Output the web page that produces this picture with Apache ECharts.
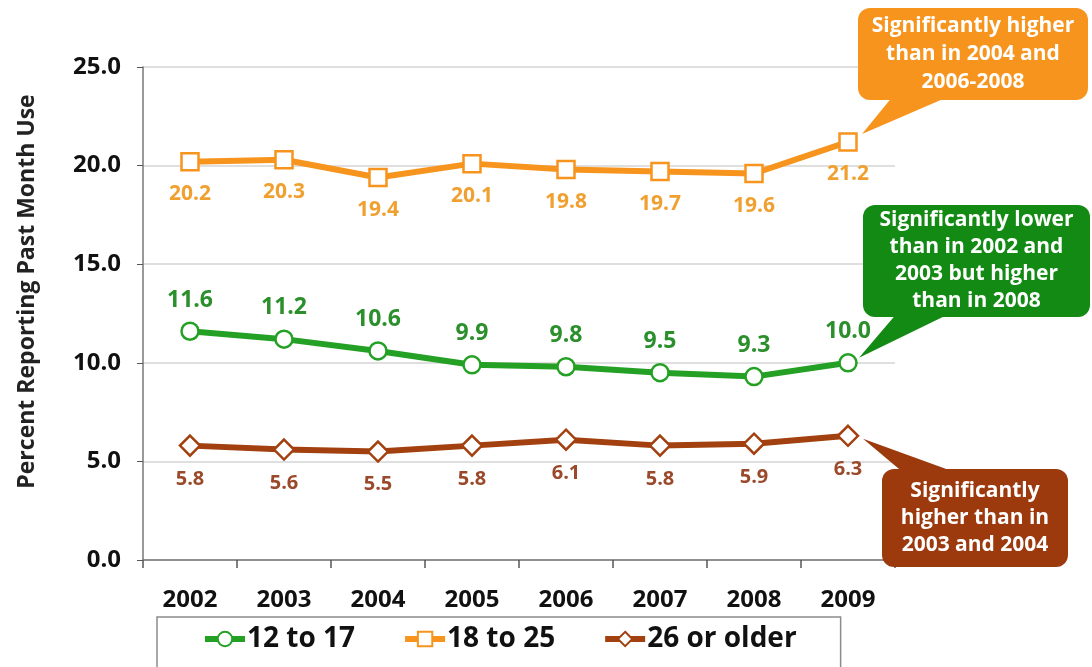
<!DOCTYPE html>
<html lang="en">
<head>
    <meta charset="UTF-8">
    <title>Percent Reporting Past Month Use</title>
    <script src="https://cdn.jsdelivr.net/npm/echarts@6/dist/echarts.min.js"></script>
    <style>
        html, body { margin: 0; padding: 0; background: #fff; }
        #chart-container { width: 1092px; height: 667px; }
    </style>
</head>
<body>
    <div id="chart-container"></div>
    <script>
        const years = ['2002', '2003', '2004', '2005', '2006', '2007', '2008', '2009'];
        const age12to17 = [11.6, 11.2, 10.6, 9.9, 9.8, 9.5, 9.3, 10.0];
        const age18to25 = [20.2, 20.3, 19.4, 20.1, 19.8, 19.7, 19.6, 21.2];
        const age26older = [5.8, 5.6, 5.5, 5.8, 6.1, 5.8, 5.9, 6.3];
        const yTicks = [0, 5, 10, 15, 20, 25];

        const FONT = '"Open Sans", Lato, sans-serif';
        const GREEN = '#24a124', ORANGE = '#f7941d', BROWN = '#a2410f';

        let myChart = echarts.init(document.getElementById('chart-container'));

        function lineSeries(name, data, color, labelColor, symbol, size, pos, dist, fs) {
            return {
                name: name,
                type: 'line',
                data: data,
                symbol: symbol,
                symbolSize: size,
                lineStyle: { color: color, width: 6 },
                itemStyle: { color: '#fff', borderColor: color, borderWidth: 2.5 },
                label: {
                    show: true,
                    position: pos,
                    distance: dist,
                    color: labelColor,
                    fontFamily: FONT,
                    fontWeight: 'bold',
                    fontSize: fs,
                    formatter: p => p.value.toFixed(1)
                },
                emphasis: { disabled: true },
                z: 3
            };
        }

        const option = {
            animation: false,
            grid: { left: 143, right: 197, top: 67, bottom: 107 },
            legend: {
                left: 157,
                top: 617,
                padding: [8, 44, 30, 45],
                itemGap: 47,
                itemWidth: 40,
                itemHeight: 18,
                borderColor: '#8c8c8c',
                borderWidth: 1.5,
                lineStyle: { width: 6 },
                textStyle: { fontFamily: FONT, fontSize: 28, color: '#111', fontWeight: 'bold', padding: [0, 0, 0, -3] },
                data: ['12 to 17', '18 to 25', '26 or older']
            },
            xAxis: {
                type: 'category',
                data: years,
                boundaryGap: true,
                axisLine: { lineStyle: { color: '#777', width: 1.5 } },
                axisTick: { show: true, length: 8, lineStyle: { color: '#555', width: 1.5 } },
                axisLabel: { margin: 28, fontFamily: FONT, fontSize: 24, fontWeight: 'bold', color: '#111' }
            },
            yAxis: {
                type: 'value',
                min: yTicks[0],
                max: yTicks[yTicks.length - 1],
                interval: 5,
                name: 'Percent Reporting Past Month Use',
                nameLocation: 'middle',
                nameGap: 104,
                nameTextStyle: { fontFamily: FONT, fontSize: 23, fontWeight: 'bold', color: '#222', padding: [0, 0, 0, 44] },
                axisLine: { show: true, lineStyle: { color: '#777', width: 1.5 } },
                axisTick: { show: true, length: 6, lineStyle: { color: '#555' } },
                splitLine: { lineStyle: { color: '#d4d4d4', width: 1.5 } },
                axisLabel: {
                    margin: 22,
                    fontFamily: FONT, fontSize: 24, fontWeight: 'bold', color: '#111',
                    formatter: v => v.toFixed(1)
                }
            },
            series: [
                lineSeries('12 to 17', age12to17, GREEN, '#2b8f2b', 'circle', 17, 'top', 10, 23),
                lineSeries('18 to 25', age18to25, ORANGE, '#f0a030', 'rect', 17, 'bottom', 12, 21),
                lineSeries('26 or older', age26older, BROWN, '#9a4a2a', 'diamond', 20, 'bottom', 12, 20)
            ]
        };

        myChart.setOption(option);

        // callout bubbles, tails pointing at the 2009 points
        function callout(box, tailBase, tip, fill, lines, lineH) {
            const els = [];
            els.push({
                type: 'polygon',
                shape: { points: [tailBase[0], tailBase[1], tip] },
                style: { fill: fill },
                z: 10
            });
            els.push({
                type: 'rect',
                shape: { x: box[0], y: box[1], width: box[2], height: box[3], r: 12 },
                style: { fill: fill },
                z: 10
            });
            const cx = box[0] + box[2] / 2;
            const y0 = box[1] + box[3] / 2 - (lines.length - 1) * lineH / 2;
            lines.forEach((t, i) => {
                els.push({
                    type: 'text',
                    x: cx, y: y0 + i * lineH,
                    style: {
                        text: t, fill: '#fff', font: 'bold 21px ' + FONT,
                        align: 'center', verticalAlign: 'middle'
                    },
                    z: 11
                });
            });
            return els;
        }

        const last = years.length - 1;
        const pOrange = myChart.convertToPixel({ seriesIndex: 1 }, [last, age18to25[last]]);
        const pGreen = myChart.convertToPixel({ seriesIndex: 0 }, [last, age12to17[last]]);
        const pBrown = myChart.convertToPixel({ seriesIndex: 2 }, [last, age26older[last]]);

        const graphics = []
            .concat(callout([858, 8, 230, 92], [[893, 96], [950, 96]], [pOrange[0] + 14, pOrange[1] - 8], '#f7941d',
                ['Significantly higher', 'than in 2004 and', '2006-2008'], 28))
            .concat(callout([863, 205, 227, 112], [[898, 312], [953, 312]], [pGreen[0] + 11, pGreen[1] - 5], '#138a13',
                ['Significantly lower', 'than in 2002 and', '2003 but higher', 'than in 2008'], 27))
            .concat(callout([882, 469, 186, 98], [[905, 474], [960, 474]], [pBrown[0] + 15, pBrown[1] + 3], '#9c3a0e',
                ['Significantly', 'higher than in', '2003 and 2004'], 27));

        myChart.setOption({ graphic: graphics });
    </script>
</body>
</html>
